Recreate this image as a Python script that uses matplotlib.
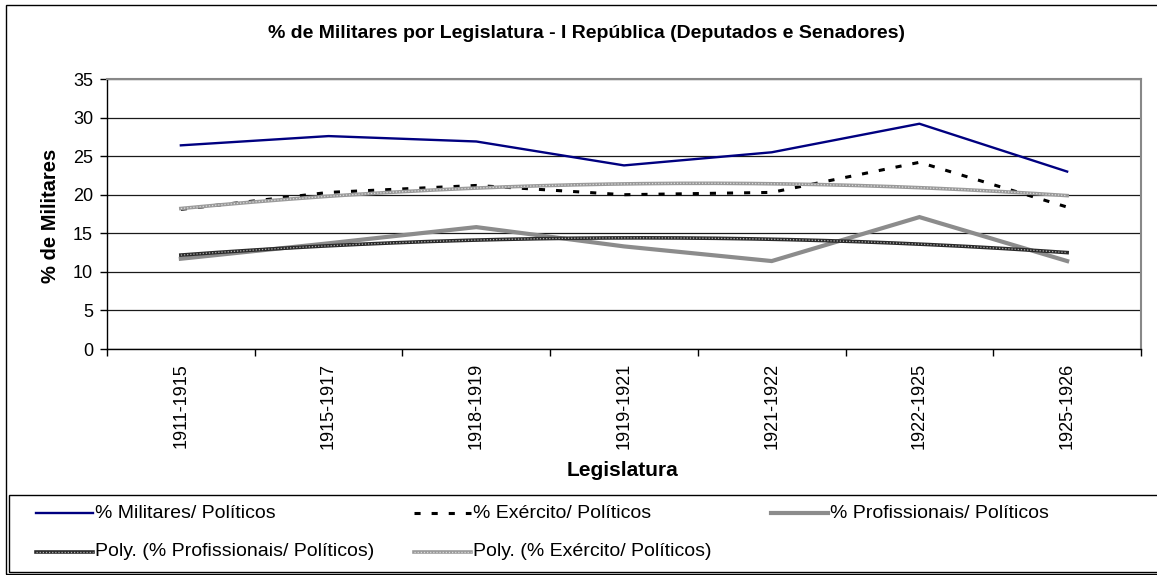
import numpy as np
import matplotlib
matplotlib.use("Agg")
import matplotlib.pyplot as plt
from matplotlib.lines import Line2D
from matplotlib.patches import Rectangle

plt.rcParams['font.family'] = ['Liberation Sans', 'DejaVu Sans']

legislaturas = ["1911-1915", "1915-1917", "1918-1919", "1919-1921",
                "1921-1922", "1922-1925", "1925-1926"]
militares = [26.4, 27.6, 26.9, 23.8, 25.5, 29.2, 23.0]
exercito = [18.1, 20.3, 21.2, 20.0, 20.3, 24.2, 18.4]
profissionais = [11.7, 13.7, 15.8, 13.3, 11.4, 17.1, 11.4]
y_ticks = [0, 5, 10, 15, 20, 25, 30, 35]

W, H = 1157, 575
fig = plt.figure(figsize=(W / 100, H / 100), dpi=100)
ax = fig.add_axes([107 / W, 1 - 349 / H, (1141 - 107) / W, (349 - 79) / H])

x = np.arange(len(legislaturas))

# second-order polynomial trendlines, as in the spreadsheet
xs = np.linspace(0, len(legislaturas) - 1, 200)
poly_prof = np.polyval(np.polyfit(x, profissionais, 2), xs)
poly_exer = np.polyval(np.polyfit(x, exercito, 2), xs)

ax.plot(x, militares, color='#000080', lw=1.7, zorder=3)
ax.plot(x, exercito, color='black', lw=2.2, dashes=(2.0, 3.6),
        dash_capstyle='butt', zorder=3)
ax.plot(x, profissionais, color='#8c8c8c', lw=3.0, zorder=3,
        solid_joinstyle='miter')

ax.plot(xs, poly_prof, color='#2a2a2a', lw=2.6, zorder=4)
ax.plot(xs, poly_prof, color='#b0b0b0', lw=0.9, dashes=(1, 1.5), zorder=4)
ax.plot(xs, poly_exer, color='#9a9a9a', lw=2.6, zorder=4)
ax.plot(xs, poly_exer, color='#dcdcdc', lw=0.9, dashes=(1, 1.5), zorder=4)

ax.set_xlim(-0.5, len(legislaturas) - 0.5)
ax.set_ylim(0, 35)
ax.set_yticks(y_ticks)
ax.set_yticklabels([str(v) for v in y_ticks], fontsize=13)
ax.set_xticks(x)
ax.set_xticklabels(legislaturas, rotation=90, fontsize=13)
ax.tick_params(axis='x', length=0, pad=10)
ax.set_xticks(np.arange(-0.5, len(legislaturas) + 0.5), minor=True)
ax.tick_params(axis='x', which='minor', length=5, width=1, color='black')
ax.tick_params(axis='y', length=5, width=1, color='black', pad=5)

ax.grid(axis='y', color='#1a1a1a', lw=0.9, zorder=1)
ax.set_axisbelow(True)
for side in ('top', 'right'):
    ax.spines[side].set_color('#888888')
    ax.spines[side].set_linewidth(1.5)
for side in ('left', 'bottom'):
    ax.spines[side].set_color('black')
    ax.spines[side].set_linewidth(1.0)

fig.text(586 / W, 1 - 33 / H,
         "% de Militares por Legislatura - I República (Deputados e Senadores)",
         ha='center', va='center', fontsize=14, fontweight='bold')
fig.text(50 / W, 1 - 216 / H, "% de Militares", rotation=90,
         ha='center', va='center', fontsize=14.5, fontweight='bold')
fig.text(623 / W, 1 - 471 / H, "Legislatura", ha='center', va='center',
         fontsize=15, fontweight='bold')

# chart frame and legend box
fig.add_artist(Rectangle((6 / W, 1 - 574 / H), (W + 10) / W, (574 - 5) / H,
                         transform=fig.transFigure, fill=False,
                         edgecolor='black', lw=1.0, clip_on=False))
fig.add_artist(Rectangle((9 / W, 1 - 572 / H), (W + 10) / W, (572 - 495) / H,
                         transform=fig.transFigure, fill=False,
                         edgecolor='black', lw=1.0, clip_on=False))

def legend_entry(x0, y, label, styles):
    for st in styles:
        fig.add_artist(Line2D([x0 / W, (x0 + 57) / W], [1 - y / H, 1 - y / H],
                              transform=fig.transFigure, **st))
    fig.text((x0 + 59) / W, 1 - y / H, label, ha='left', va='center',
             fontsize=14)

legend_entry(36, 513, "% Militares/ Políticos",
             [dict(color='#000080', lw=1.7)])
legend_entry(414, 513, "% Exército/ Políticos",
             [dict(color='black', lw=2.2, dashes=(2.0, 3.6),
                   dash_capstyle='butt')])
legend_entry(771, 513, "% Profissionais/ Políticos",
             [dict(color='#8c8c8c', lw=3.0)])
legend_entry(36, 552, "Poly. (% Profissionais/ Políticos)",
             [dict(color='#2a2a2a', lw=2.6),
              dict(color='#b0b0b0', lw=0.9, dashes=(1, 1.5))])
legend_entry(414, 552, "Poly. (% Exército/ Políticos)",
             [dict(color='#9a9a9a', lw=2.6),
              dict(color='#dcdcdc', lw=0.9, dashes=(1, 1.5))])

fig.savefig("out.png", dpi=100)
